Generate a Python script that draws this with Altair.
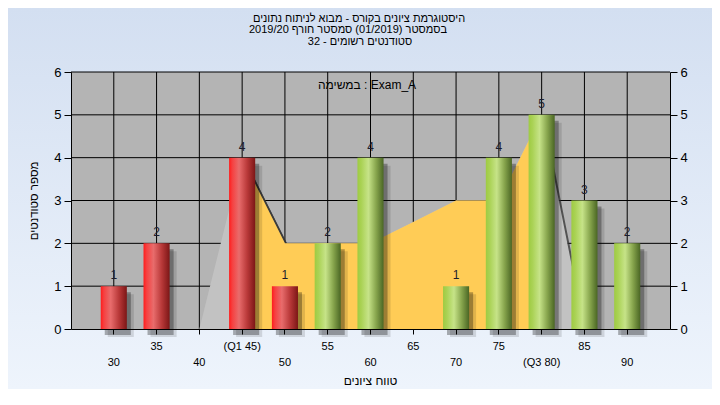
import altair as alt
import pandas as pd

# ---------------- data ----------------
TICK_LABELS = ["30", "35", "40", "(Q1 45)", "50", "55", "60", "65", "70", "75", "(Q3 80)", "85", "90"]
COUNTS = [1, 2, 0, 4, 1, 2, 4, 0, 1, 4, 5, 3, 2]
BAR_GROUP = ["fail", "fail", "fail", "fail", "fail", "pass", "pass", "pass", "pass", "pass", "pass", "pass", "pass"]
AREA_VALUES = [0, 0, 0, 4, 2, 2, 2, 2.5, 3, 3, 5, 0, 0]
IQR_FLAG = [0, 0, 0, 1, 1, 1, 1, 1, 1, 1, 1, 0, 0]
Y_TICKS = [0, 1, 2, 3, 4, 5, 6]
GRID_Y = [1, 2, 3, 4, 5, 6]

TITLE_LINES = [
    "היסטוגרמת ציונים בקורס - מבוא לניתוח נתונים",
    "בסמסטר  (01/2019)  סמסטר חורף 2019/20",
    "סטודנטים רשומים - 32",
]
SUBTITLE = "במשימה : Exam_A"
X_TITLE = "טווח ציונים"
Y_TITLE = "מספר סטודנטים"

# ---------------- layout ----------------
W, H = 599, 257
PAD = {"left": 63, "top": 64, "right": 42, "bottom": 60}
FONT = "Liberation Sans"

one = pd.DataFrame({"k": [0]})

df = pd.DataFrame({
    "label": TICK_LABELS,
    "count": COUNTS,
    "group": BAR_GROUP,
    "area": AREA_VALUES,
    "iqr": IQR_FLAG,
})
bars_df = df[df["count"] > 0]

xs = alt.Scale(domain=TICK_LABELS, paddingInner=0.39, paddingOuter=0.695)
ys = alt.Scale(domain=[0, 6], nice=False, zero=True)

x_axis = alt.Axis(
    title=None, bandPosition=0.5, labelAngle=0,
    labelExpr="round(datum.index*12) % 2 == 1 ? [datum.label] : ['', datum.label]",
    labelLineHeight=16, labelFontSize=11, labelPadding=6, labelColor="black",
    tickSize=5, tickColor="black", domainColor="black", grid=False,
    labelOverlap=False, zindex=1,
)
y_axis_left = alt.Axis(
    orient="left", values=Y_TICKS, title=Y_TITLE, tickSize=7, labelFontSize=13, labelPadding=3,
    labelColor="black", tickColor="black", domainColor="black", grid=False,
    titleFontSize=11.5, titleFontWeight="normal", titleColor="black", titlePadding=14,
    zindex=1,
)
y_axis_right = alt.Axis(
    orient="right", values=Y_TICKS, title=None, tickSize=7, labelFontSize=13,
    labelPadding=3, labelColor="black", tickColor="black", domainColor="black",
    grid=False, zindex=1,
)


def xenc(band=None):
    if band is None:
        return alt.X("label:N", scale=xs, axis=x_axis)
    return alt.X("label:N", scale=xs, axis=x_axis, bandPosition=band)


def text_at(txt, x, y, size):
    return alt.Chart(one).mark_text(
        text=txt, fontSize=size, align="center", baseline="alphabetic", color="black"
    ).encode(x=alt.value(x), y=alt.value(y))


bg_grad = alt.Gradient(
    gradient="linear", x1=0, x2=0, y1=0, y2=1,
    stops=[alt.GradientStop(color="#d3dff1", offset=0),
           alt.GradientStop(color="#eef4fc", offset=1)],
)
red_grad = alt.Gradient(
    gradient="linear", x1=0, x2=1, y1=0, y2=0,
    stops=[alt.GradientStop(color="#ff1c1c", offset=0),
           alt.GradientStop(color="#f64040", offset=0.12),
           alt.GradientStop(color="#e86c6c", offset=0.38),
           alt.GradientStop(color="#b83838", offset=0.7),
           alt.GradientStop(color="#7c1616", offset=1)],
)
green_grad = alt.Gradient(
    gradient="linear", x1=0, x2=1, y1=0, y2=0,
    stops=[alt.GradientStop(color="#9ecb42", offset=0),
           alt.GradientStop(color="#aad255", offset=0.15),
           alt.GradientStop(color="#c6e388", offset=0.42),
           alt.GradientStop(color="#86a44c", offset=0.72),
           alt.GradientStop(color="#4a6624", offset=1)],
)

background = alt.Chart(one).mark_rect(fill=bg_grad).encode(
    x=alt.value(-PAD["left"]), x2=alt.value(W + PAD["right"]),
    y=alt.value(-PAD["top"]), y2=alt.value(H + PAD["bottom"]),
)
plot_bg = alt.Chart(one).mark_rect(color="#b4b4b4").encode(
    x=alt.value(0), x2=alt.value(W), y=alt.value(0), y2=alt.value(H),
)

vgrid = alt.Chart(df).mark_rule(color="black", strokeWidth=1).encode(
    x=xenc(band=0.5)
)
hgrid = alt.Chart(pd.DataFrame({"v": GRID_Y})).mark_rule(color="black", strokeWidth=1).encode(
    y=alt.Y("v:Q", scale=ys, axis=None)
)

gray_shadow = alt.Chart(df).mark_area(color="#333333", opacity=0.75, xOffset=2, interpolate="linear").encode(
    x=xenc(band=0.5), y=alt.Y("area:Q", scale=ys, axis=None)
)
gray_area = alt.Chart(df).mark_area(color="#c2c2c2", opacity=1, interpolate="linear").encode(
    x=xenc(band=0.5), y=alt.Y("area:Q", scale=ys, axis=None)
)
yellow_shadow = alt.Chart(df).transform_filter("datum.iqr == 1").mark_area(
    color="#333333", opacity=0.75, xOffset=2, interpolate="linear").encode(
    x=xenc(band=0.5), y=alt.Y("area:Q", scale=ys, axis=None)
)
yellow_area = alt.Chart(df).transform_filter("datum.iqr == 1").mark_area(
    color="#ffcc56", opacity=1, interpolate="linear").encode(
    x=xenc(band=0.5), y=alt.Y("area:Q", scale=ys, axis=None)
)

shadow1 = alt.Chart(bars_df).mark_bar(color="#000000", opacity=0.12, xOffset=7, yOffset=8).encode(
    x=xenc(), y=alt.Y("count:Q", scale=ys, axis=None)
)
shadow2 = alt.Chart(bars_df).mark_bar(color="#000000", opacity=0.3, xOffset=4, yOffset=6).encode(
    x=xenc(), y=alt.Y("count:Q", scale=ys, axis=None)
)
red_bars = alt.Chart(bars_df).transform_filter("datum.group == 'fail'").mark_bar(fill=red_grad).encode(
    x=xenc(), y=alt.Y("count:Q", scale=ys, axis=None)
)
green_bars = alt.Chart(bars_df).transform_filter("datum.group == 'pass'").mark_bar(fill=green_grad).encode(
    x=xenc(), y=alt.Y("count:Q", scale=ys, axis=y_axis_left)
)
value_labels = alt.Chart(bars_df).mark_text(
    fontSize=12, baseline="alphabetic", dy=-7, color="#1c1c2c").encode(
    x=xenc(), y=alt.Y("count:Q", scale=ys, axis=None), text="count:Q"
)
right_axis = alt.Chart(bars_df).mark_point(opacity=0).encode(
    x=xenc(), y=alt.Y("count:Q", scale=ys, axis=y_axis_right)
)

text_layers = [
    text_at(TITLE_LINES[0], 288, -50, 11),
    text_at(TITLE_LINES[1], 277, -38.7, 11),
    text_at(TITLE_LINES[2], 289, -27.4, 11),
    text_at(SUBTITLE, 296, 17, 12),
    text_at(X_TITLE, W / 2, 313, 12),
]

chart = alt.layer(
    background, plot_bg, vgrid, hgrid, gray_shadow, gray_area, yellow_shadow, yellow_area,
    shadow1, shadow2, red_bars, green_bars, value_labels, right_axis, *text_layers,
).resolve_axis(y="independent").properties(
    width=W, height=H,
    autosize=alt.AutoSizeParams(type="none"),
    padding=PAD,
).configure_view(stroke=None).configure_axis(
    labelFont=FONT, titleFont=FONT
).configure_text(font=FONT)

chart.save("out.html", embed_options={"renderer": "svg", "actions": False})
